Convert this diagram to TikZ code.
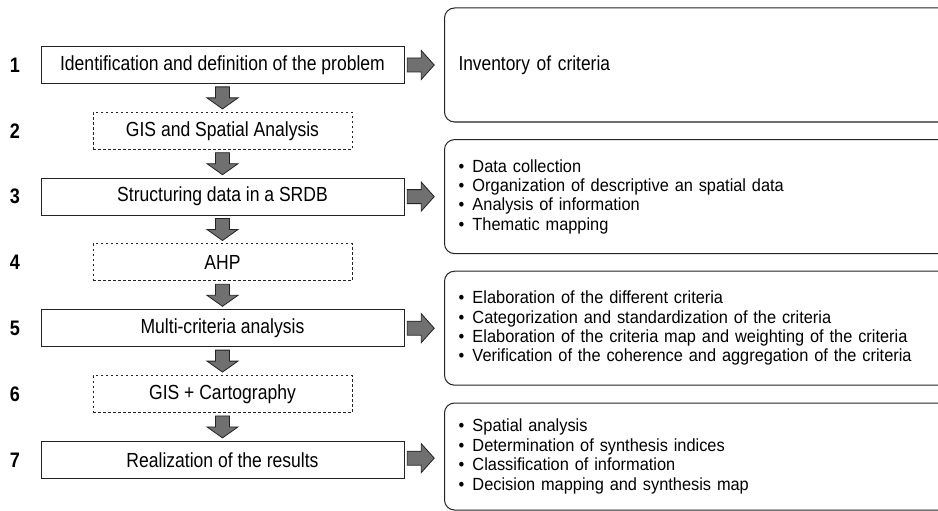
\documentclass[tikz,border=0pt]{standalone}
\usepackage{fontspec}
\setmainfont{Liberation Sans}[FakeStretch=0.86]
\newfontfamily\listfont{Liberation Sans}[FakeStretch=0.93]
\usepackage{tikz}
\usetikzlibrary{calc}

\definecolor{arrowgray}{RGB}{112,112,112}
\definecolor{framegray}{RGB}{35,35,35}

% block arrows between two named nodes
\newcommand{\dnarrow}[2]{%
  \draw[blockarr] ($(#1.south)!0.5!(#2.north)$) +(-7,-11) -- +(7,-11) -- +(7,0) -- +(15.5,0)
    -- +(0,11) -- +(-15.5,0) -- +(-7,0) -- cycle;}
\newcommand{\rtarrow}[2]{%
  \draw[blockarr] ($(#1.east)!0.5!(#2.west)$) +(-17,-7) -- +(-3,-7) -- +(-3,-14.5) -- +(10,0)
    -- +(-3,14.5) -- +(-3,7) -- +(-17,7) -- cycle;}
\newcommand{\bul}{\makebox[14pt][l]{\textbullet}}

\begin{document}
\begin{tikzpicture}[x=1pt, y=-1pt,
    stepbox/.style={draw=framegray, line width=1pt, fill=white, minimum width=363pt,
      minimum height=37pt, inner sep=0pt, font=\fontsize{20.4}{22}\selectfont},
    gisbox/.style={stepbox, minimum width=259pt, dash pattern=on 2.5pt off 2.5pt},
    num/.style={font=\fontsize{21}{22}\selectfont\bfseries},
    infobox/.style={draw=framegray, line width=1pt, rounded corners=10pt, fill=white,
      anchor=west, minimum height=114pt, text width=480pt, inner xsep=14pt, align=left,
      font=\listfont\fontsize{17.6}{19.4}\selectfont},
    blockarr/.style={fill=arrowgray, draw=framegray, line width=0.8pt, line join=miter}]
    \useasboundingbox (0, 0) rectangle (938, 511);

    % step numbers
    \foreach \k in {1, ..., 7}
    \node[num] (n\k) at (15, {65+65.8*(\k-1)}) {\k};

    % solid steps
    \foreach \k/\lab in {1/Identification and definition of the problem,
      3/Structuring data in a SRDB, 5/Multi-criteria analysis, 7/Realization of the results}
    \node[stepbox] (s\k) at (222.5, {65+65.8*(\k-1)}) {\lab};

    % dashed steps
    \foreach \k/\lab in {2/GIS and Spatial Analysis, 4/AHP, 6/GIS + Cartography}
    \node[gisbox] (s\k) at (222.5, {65+65.8*(\k-1)}) {\lab};

    \begin{scope}
    \path[clip] (0, 0) rectangle (938, 511);

    % result boxes
    \node[infobox, font=\fontsize{20.2}{22}\selectfont] (rA) at (444, 65) {Inventory of criteria};
    \node[infobox] (rB) at (444, 196.6) {\bul Data collection\\
      \bul Organization of descriptive an spatial data\\
      \bul Analysis of information\\
      \bul Thematic mapping};
    \node[infobox] (rC) at (444, 328.2) {\bul Elaboration of the different criteria\\
      \bul Categorization and standardization of the criteria\\
      \bul Elaboration of the criteria map and weighting of the criteria\\
      \bul Verification of the coherence and aggregation of the criteria};
    \node[infobox, minimum height=107pt] (rD) at (444, 456.5) {\bul Spatial analysis\\
      \bul Determination of synthesis indices\\
      \bul Classification of information\\
      \bul Decision mapping and synthesis map};
    \end{scope}

    % down arrows
    \foreach \a/\b in {1/2, 2/3, 3/4, 4/5, 5/6, 6/7}
    \dnarrow{s\a}{s\b};

    % right arrows
    \foreach \k/\r in {1/A, 3/B, 5/C, 7/D}
    \rtarrow{s\k}{r\r};

\end{tikzpicture}
\end{document}
